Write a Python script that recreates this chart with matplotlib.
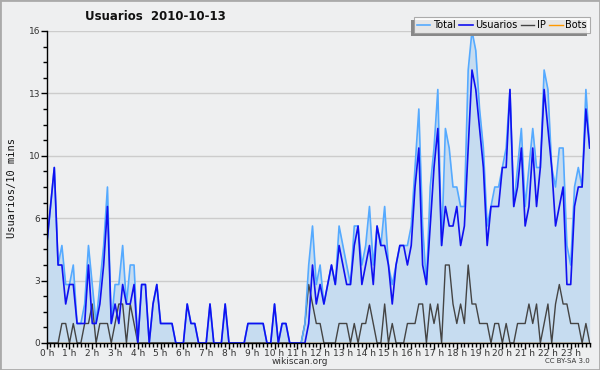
import numpy as np
import matplotlib.pyplot as plt
from matplotlib.patches import Rectangle
from matplotlib.ticker import FixedLocator, MultipleLocator

# one value per 10-minute slot, 2010-10-13
usuarios = [
    5, 7, 9, 4, 4, 2, 3, 3, 1, 1, 1, 4, 1, 1, 2, 4, 7, 1, 2, 1, 3, 2, 2, 3,
    0, 3, 3, 0, 2, 3, 1, 1, 1, 1, 0, 0, 0, 2, 1, 1, 0, 0, 0, 2, 0, 0, 0, 2,
    0, 0, 0, 0, 0, 1, 1, 1, 1, 1, 0, 0, 2, 0, 1, 1, 0, 0, 0, 0, 0, 1, 4, 2,
    3, 2, 3, 4, 3, 5, 4, 3, 3, 5, 6, 3, 4, 5, 3, 6, 5, 5, 4, 2, 4, 5, 5, 4,
    5, 8, 10, 4, 3, 6, 9, 11, 5, 7, 6, 6, 7, 5, 6, 10, 14, 13, 11, 9, 5, 7, 7, 7,
    9, 9, 13, 7, 8, 10, 6, 7, 10, 7, 9, 13, 11, 9, 6, 7, 8, 3, 3, 7, 8, 8, 12, 10,
]
ip = [
    0, 0, 0, 0, 1, 1, 0, 1, 0, 0, 1, 1, 2, 0, 1, 1, 1, 0, 1, 2, 2, 0, 2, 1,
    0, 0, 0, 0, 0, 0, 0, 0, 0, 0, 0, 0, 0, 0, 0, 0, 0, 0, 0, 0, 0, 0, 0, 0,
    0, 0, 0, 0, 0, 0, 0, 0, 0, 0, 0, 0, 0, 0, 0, 0, 0, 0, 0, 0, 1, 3, 2, 1,
    1, 0, 0, 0, 0, 1, 1, 1, 0, 1, 0, 1, 1, 2, 1, 0, 0, 2, 0, 1, 0, 0, 0, 1,
    1, 1, 2, 2, 0, 2, 1, 2, 0, 4, 4, 2, 1, 2, 1, 4, 2, 2, 1, 1, 1, 0, 1, 1,
    0, 1, 0, 0, 1, 1, 1, 2, 1, 2, 0, 1, 2, 0, 2, 3, 2, 2, 1, 1, 1, 0, 1, 0,
]
total = [
    5, 7, 9, 4, 5, 3, 3, 4, 1, 1, 2, 5, 3, 1, 3, 5, 8, 1, 3, 3, 5, 2, 4, 4,
    0, 3, 3, 0, 2, 3, 1, 1, 1, 1, 0, 0, 0, 2, 1, 1, 0, 0, 0, 2, 0, 0, 0, 2,
    0, 0, 0, 0, 0, 1, 1, 1, 1, 1, 0, 0, 2, 0, 1, 1, 0, 0, 0, 0, 1, 4, 6, 3,
    4, 2, 3, 4, 3, 6, 5, 4, 3, 6, 6, 4, 5, 7, 4, 6, 5, 7, 4, 3, 4, 5, 5, 5,
    6, 9, 12, 6, 3, 8, 10, 13, 5, 11, 10, 8, 8, 7, 7, 14, 16, 15, 12, 10, 6, 7, 8, 8,
    9, 10, 13, 7, 9, 11, 7, 9, 11, 9, 9, 14, 13, 9, 8, 10, 10, 5, 4, 8, 9, 8, 13, 10,
]
bots = [
    0, 0, 0, 0, 0, 0, 0, 0, 0, 0, 0, 0, 0, 0, 0, 0, 0, 0, 0, 0, 0, 0, 0, 0,
    0, 0, 0, 0, 0, 0, 0, 0, 0, 0, 0, 0, 0, 0, 0, 0, 0, 0, 0, 0, 0, 0, 0, 0,
    0, 0, 0, 0, 0, 0, 0, 0, 0, 0, 0, 0, 0, 0, 0, 0, 0, 0, 0, 0, 0, 0, 0, 0,
    0, 0, 0, 0, 0, 0, 0, 0, 0, 0, 0, 0, 0, 0, 0, 0, 0, 0, 0, 0, 0, 0, 0, 0,
    0, 0, 0, 0, 0, 0, 0, 0, 0, 0, 0, 0, 0, 0, 0, 0, 0, 0, 0, 0, 0, 0, 0, 0,
    0, 0, 0, 0, 0, 0, 0, 0, 0, 0, 0, 0, 0, 0, 0, 0, 0, 0, 0, 0, 0, 0, 0, 0,
]
hours = list(range(24))
hour_labels = ['%d h' % h for h in hours]
ytick_vals = [0, 3.2, 6.4, 9.6, 12.8, 16]
ytick_labels = ['0', '3', '6', '10', '13', '16']

slots = np.arange(len(total)) / 6.0

bg = '#eeeff0'
W, H = 600.0, 370.0
fig = plt.figure(figsize=(6, 3.7), dpi=100, facecolor=bg)
ax = fig.add_axes([46.7 / W, 27 / H, 543 / W, 312 / H])
ax.set_facecolor(bg)

ax.fill_between(slots, total, color='#c6dcf0', lw=0, zorder=1)
l_bots, = ax.plot(slots, bots, color='#ff9900', lw=1, zorder=1.5)
l_ip, = ax.plot(slots, ip, color='#444444', lw=1, zorder=3)
l_tot, = ax.plot(slots, total, color='#55aaff', lw=1.2, zorder=4)
l_usr, = ax.plot(slots, usuarios, color='#1010f0', lw=1.2, zorder=5)

ax.set_xlim(0, slots[-1])
ax.set_ylim(0, 16)
ax.xaxis.set_major_locator(FixedLocator(hours))
ax.set_xticklabels(hour_labels)
ax.xaxis.set_minor_locator(MultipleLocator(1 / 6.0))
ax.yaxis.set_major_locator(FixedLocator(ytick_vals))
ax.set_yticklabels(ytick_labels)
ax.yaxis.set_minor_locator(MultipleLocator(0.8))
ax.grid(axis='y', which='major', color='#cccccc', lw=1, zorder=0)
ax.set_axisbelow(True)

for s in ('top', 'right'):
    ax.spines[s].set_visible(False)
for s in ('left', 'bottom'):
    ax.spines[s].set_color('black')
    ax.spines[s].set_linewidth(1)
    ax.spines[s].set_zorder(6)
ax.tick_params(which='major', length=4, width=1, labelsize=6.5, labelcolor='#333333', pad=0.5)
ax.tick_params(which='minor', length=3, width=1)

fig.text(85 / W, 1 - 16 / H, 'Usuarios  2010-10-13', fontsize=8.5, weight='bold',
         color='#111111', va='center', ha='left')
fig.text(12 / W, 1 - 188 / H, 'Usuarios/10 mins', rotation=90, fontsize=7.5,
         family='DejaVu Sans Mono', va='center', ha='center', color='#111111')
fig.text(300 / W, 1 - 362 / H, 'wikiscan.org', fontsize=6.5, color='#333333',
         ha='center', va='center')
fig.text(590 / W, 1 - 361 / H, 'CC BY-SA 3.0', fontsize=5, color='#333333',
         ha='right', va='center')

leg = fig.legend([l_tot, l_usr, l_ip, l_bots], ['Total', 'Usuarios', 'IP', 'Bots'],
                 ncol=4, loc='upper right', bbox_to_anchor=(590 / W, 1 - 17 / H),
                 fontsize=7, frameon=True, fancybox=False, handlelength=1.4,
                 handletextpad=0.3, columnspacing=0.3, borderpad=0.3,
                 borderaxespad=0)
leg.get_frame().set_facecolor('white')
leg.get_frame().set_edgecolor('#999999')
leg.get_frame().set_linewidth(0.8)
leg.set_zorder(10)

fig.canvas.draw()
bb = leg.get_window_extent()
fig.patches.append(Rectangle((bb.x0 - 3, bb.y0 - 3), bb.width, bb.height,
                             transform=None, facecolor='#888888', lw=0, zorder=9))
fig.patches.append(Rectangle((0, 0), 1, 1, transform=fig.transFigure, fill=False,
                             edgecolor='#aaaaaa', lw=2, zorder=20))

fig.savefig('out.png', dpi=100, facecolor=bg)
